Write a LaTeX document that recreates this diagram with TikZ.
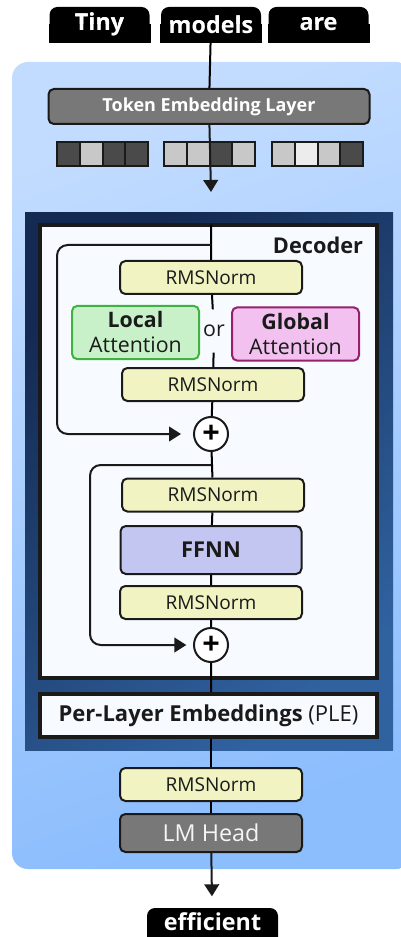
\documentclass[tikz,border=0pt]{standalone}
\usepackage{fontspec}
\setmainfont{Open Sans}
\usetikzlibrary{arrows.meta,positioning,calc}

\definecolor{inkclr}{RGB}{26,26,26}
\definecolor{panelA}{RGB}{194,220,255}
\definecolor{panelB}{RGB}{140,189,253}
\definecolor{frameA}{RGB}{20,42,82}
\definecolor{frameB}{RGB}{48,98,160}
\definecolor{decfill}{RGB}{247,251,255}
\definecolor{rmsfill}{RGB}{241,243,194}
\definecolor{localfill}{RGB}{201,241,201}
\definecolor{localdraw}{RGB}{64,178,64}
\definecolor{globalfill}{RGB}{242,193,240}
\definecolor{globaldraw}{RGB}{150,32,110}
\definecolor{ffnnfill}{RGB}{196,198,242}
\definecolor{grayfill}{RGB}{120,120,120}
\definecolor{cdk}{RGB}{74,74,74}
\definecolor{clt}{RGB}{200,200,200}
\definecolor{cwh}{RGB}{236,236,236}

\tikzset{every picture/.style={line width=1.5pt}}
\tikzset{
  tokbox/.style={fill=black, text=white, rounded corners=6pt, inner sep=0pt,
    minimum width=75pt, minimum height=26.25pt, font=\fontsize{17.5}{20}\selectfont\bfseries},
  graybox/.style={draw=inkclr, fill=grayfill, text=white, rounded corners=4pt, inner sep=0pt},
  rmsbox/.style={draw=inkclr, fill=rmsfill, text=inkclr, rounded corners=4pt, inner sep=0pt,
    minimum width=136.5pt, minimum height=24.75pt, font=\fontsize{14.3}{16}\selectfont},
  attnbox/.style={rounded corners=4pt, inner sep=0pt, align=center, text=inkclr,
    minimum width=95.25pt, minimum height=40pt, font=\fontsize{16}{18.75}\selectfont},
  addnode/.style={circle, draw=inkclr, fill=white, inner sep=0pt, minimum size=25.5pt,
    font=\fontsize{23}{23}\selectfont\bfseries},
  bigbox/.style={draw=inkclr, line width=3pt, fill=decfill, inner sep=0pt, minimum width=252.75pt},
  flow/.style={draw=inkclr, -{Triangle[width=11pt,length=9pt]}},
}

\begin{document}
\begin{tikzpicture}[x=0.75pt,y=0.75pt,yscale=-1,xscale=1]
\useasboundingbox (0,0) rectangle (400,937);

%Shape: Panel
\shade [rounded corners=12pt, top color=panelA, bottom color=panelB, shading angle=20] (12,62) rectangle (412,869);
%Shape: Decoder frame
\shade [top color=frameA, bottom color=frameB, shading angle=40] (25,213) rectangle (393,750);

%Input tokens
\node [tokbox] (tiny) at (99.5,24.5) {Tiny};
\node [tokbox] (models) at (211,24.5) {models};
\node [tokbox] (are) at (318.5,24.5) {are};
\foreach \t in {tiny,models,are}
  \fill (\t.west) rectangle (\t.south east);
\node [text=white, font=\fontsize{17.5}{20}\selectfont\bfseries] at (tiny) {Tiny};
\node [text=white, font=\fontsize{17.5}{20}\selectfont\bfseries] at (models) {models};
\node [text=white, font=\fontsize{17.5}{20}\selectfont\bfseries] at (are) {are};

%Token embedding
\node [graybox, minimum width=240.75pt, minimum height=26.25pt, font=\fontsize{13.5}{16}\selectfont\bfseries] (emb) at (209,106.5) {Token Embedding Layer};
\foreach \g/\a/\b/\c/\d in {57/cdk/clt/cdk/cdk, 164/clt/clt/cdk/clt, 272/clt/cwh/clt/cdk}
  \foreach \i/\col in {0/\a,1/\b,2/\c,3/\d}
    \draw [draw=inkclr, fill=\col] (\g+\i*22.75,142) rectangle ++(22.75,24);
\coordinate (embout) at (211,192);

%Decoder block
\node [bigbox, minimum height=339.75pt] (dec) at (208.5,451.5) {};
\node [anchor=north east, inner sep=0pt, text=inkclr, font=\fontsize{16.3}{18}\selectfont\bfseries] (declbl) at (364,236) {Decoder};
\coordinate (dtop) at (211,225);
\coordinate (br1) at (211,245);
\coordinate (br2) at (211,465);

\node [rmsbox] (rms1) at (211,277.5) {RMSNorm};
\node [attnbox, draw=localdraw, fill=localfill] (local) at (135.5,332.5) {\textbf{Local}\\Attention};
\node [fill=decfill, inner xsep=2pt, minimum height=31pt, text=inkclr, font=\fontsize{16}{18}\selectfont] (or) at (214,331) {or};
\node [attnbox, draw=globaldraw, fill=globalfill] (global) at (295.5,334) {\textbf{Global}\\Attention};
\node [rmsbox] (rms2) at (213,384.5) {RMSNorm};
\node [addnode] (add1) at (211,434) {+};

\node [rmsbox] (rms3) at (213,495) {RMSNorm};
\node [draw=inkclr, fill=ffnnfill, rounded corners=4pt, inner sep=0pt, minimum width=135.75pt, minimum height=36pt, text=inkclr, font=\fontsize{16.4}{18}\selectfont\bfseries] (ffnn) at (211,550) {FFNN};
\node [rmsbox] (rms4) at (211,602.5) {RMSNorm};
\node [addnode] (add2) at (211,645) {+};

\node [bigbox, minimum height=32.25pt, text=inkclr, font=\fontsize{16.5}{18}\selectfont] (ple) at (208.5,715.5) {\textbf{Per-Layer Embeddings} (PLE)};

%Output head
\node [rmsbox] (rms5) at (211,784.5) {RMSNorm};
\node [graybox, minimum width=136.5pt, minimum height=28.5pt, text=white!96!black, font=\fontsize{17.5}{19}\selectfont] (lmhead) at (211,833) {LM Head};
\node [tokbox, minimum width=98.25pt, minimum height=37.5pt, text depth=0pt] (eff) at (212.5,933) {};
\node [text=white, font=\fontsize{17.5}{20}\selectfont\bfseries, anchor=base] at (212.5,930) {efficient};

%Connectors
\draw [draw=black] (models) -- (emb);
\draw [flow] (emb) -- (embout);
\draw (dtop) -- (rms1) -- (or) -- (rms2) -- (add1) -- (rms3) -- (ffnn) -- (rms4) -- (add2) -- (add2 |- ple.north);
\draw [flow, rounded corners=8pt, shorten >=9pt] (br1) -- ++(-154,0) |- (add1.west);
\draw [flow, rounded corners=8pt, shorten >=5pt] (br2) -- ++(-121,0) |- (add2.west);
\draw (add2 |- ple.south) -- (rms5) -- (lmhead);
\draw [flow, shorten >=8pt] (lmhead) -- (eff);

\end{tikzpicture}
\end{document}
